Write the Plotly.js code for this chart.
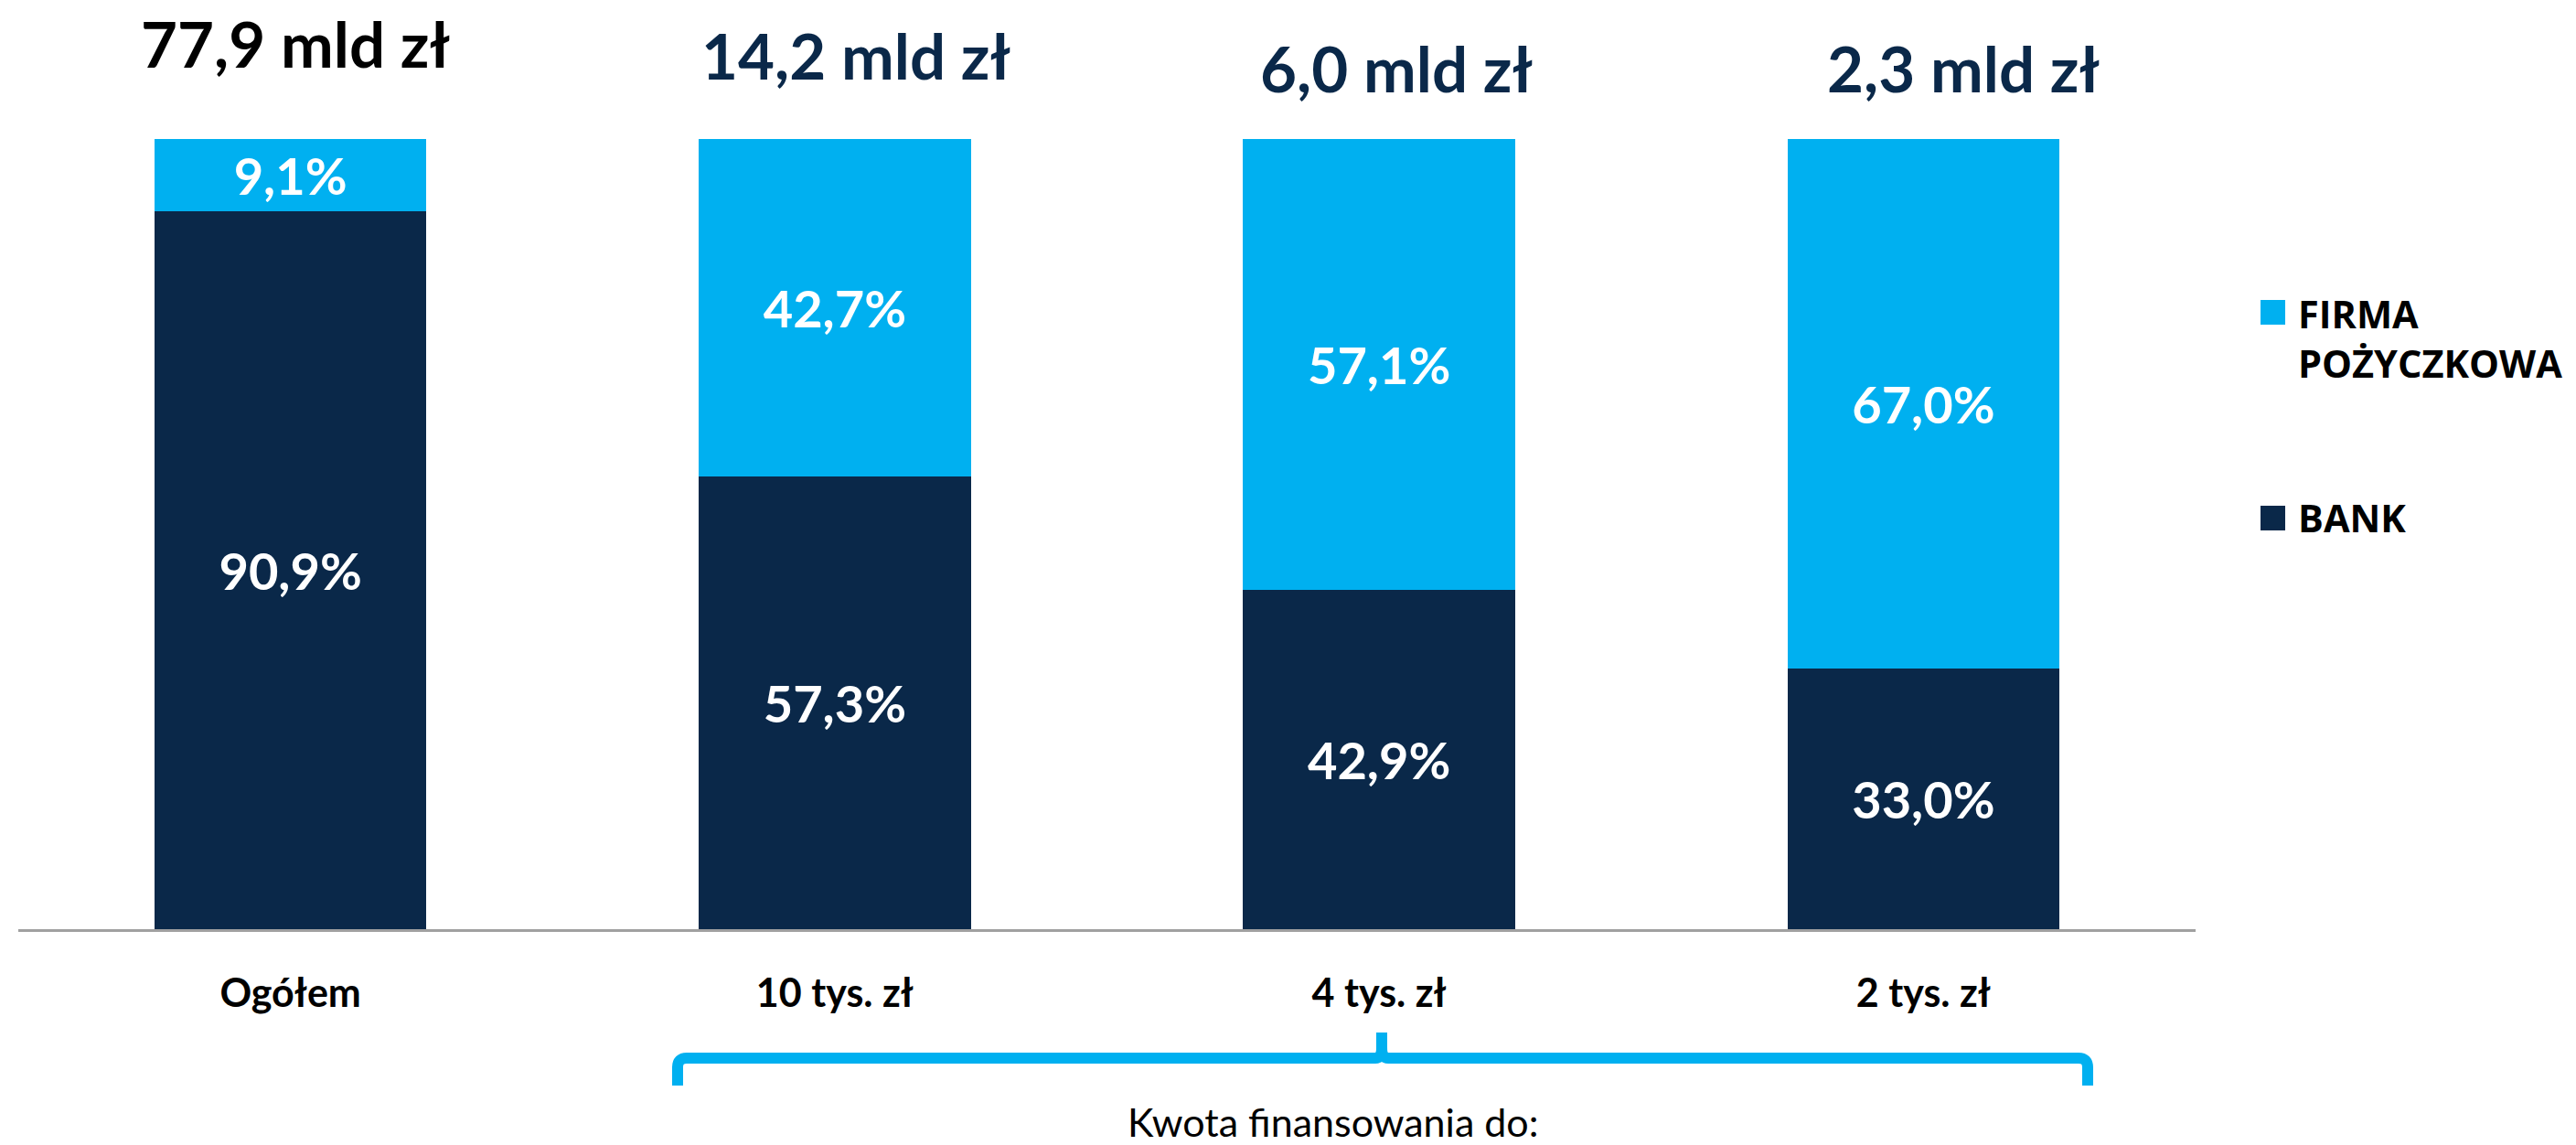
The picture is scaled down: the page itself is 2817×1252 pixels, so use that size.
<!DOCTYPE html>
<html>
<head>
<meta charset="utf-8">
<script src="https://cdn.plot.ly/plotly-3.0.1.min.js"></script>
<style>html,body{margin:0;padding:0;background:#fff;}#chart{width:2817px;height:1252px;}</style>
</head>
<body>
<div id="chart"></div>
<script>
// ---- data ----
const categories = ['Ogółem', '10 tys. zł', '4 tys. zł', '2 tys. zł'];
const seriesNames = ['BANK', 'FIRMA<br>POŻYCZKOWA'];
const bankShare = [90.9, 57.3, 42.9, 33.0];
const firmaShare = [9.1, 42.7, 57.1, 67.0];
const totals = [77.9, 14.2, 6.0, 2.3];
const totalsUnit = 'mld zł';
const bracketLabel = 'Kwota finansowania do:';

// ---- style ----
const NAVY = '#0A2849';
const BLUE = '#00B0F0';
const W = 2817, H = 1252;
const M = {l: 20, r: 416, t: 152, b: 236};
const PW = W - M.l - M.r, PH = H - M.t - M.b;
const px = x => (x - M.l) / PW;           // pixel -> paper x
const py = y => (H - M.b - y) / PH;       // pixel -> paper y

const fmt = v => v.toFixed(1).replace('.', ',');

const traces = [
  {type: 'bar', name: seriesNames[0], x: categories, y: bankShare,
   marker: {color: NAVY, line: {width: 0}}, showlegend: false,
   texttemplate: '%{y:.1f}%', textposition: 'inside', insidetextanchor: 'middle',
   textfont: {family: 'Lato', size: 56, color: '#ffffff', weight: 'bold'},
   constraintext: 'none', hoverinfo: 'skip'},
  {type: 'bar', name: seriesNames[1], x: categories, y: firmaShare,
   marker: {color: BLUE, line: {width: 0}}, showlegend: false,
   texttemplate: '%{y:.1f}%', textposition: 'inside', insidetextanchor: 'middle',
   textfont: {family: 'Lato', size: 56, color: '#ffffff', weight: 'bold'},
   constraintext: 'none', hoverinfo: 'skip'}
];

const titleY = [py(47), py(61), py(74), py(74)];
const titleShift = [5, 23, 19, 44];
const annotations = totals.map((t, i) => ({
  xref: 'x', yref: 'paper', x: categories[i], y: titleY[i], xshift: titleShift[i],
  text: '<b>' + fmt(t) + ' ' + totalsUnit + '</b>', showarrow: false,
  xanchor: 'center', yanchor: 'middle',
  font: {family: 'Lato', size: 69, color: i === 0 ? '#000000' : NAVY}
}));

annotations.push({
  xref: 'paper', yref: 'paper', x: px(1458), y: py(1226), text: bracketLabel,
  showarrow: false, xanchor: 'center', yanchor: 'middle',
  font: {family: 'Lato', size: 43, color: '#000000'}
});

// custom legend
annotations.push({
  xref: 'paper', yref: 'paper', x: px(2511), y: py(370), text: '<b>' + seriesNames[1] + '</b>',
  showarrow: false, xanchor: 'left', yanchor: 'middle', align: 'left',
  font: {family: 'Open Sans', size: 41.5, color: '#000000'}
});
annotations.push({
  xref: 'paper', yref: 'paper', x: px(2511), y: py(566), text: '<b>' + seriesNames[0] + '</b>',
  showarrow: false, xanchor: 'left', yanchor: 'middle', align: 'left',
  font: {family: 'Open Sans', size: 41.5, color: '#000000'}
});

// bracket path
const L = 741, R = 2283, C = 1511, Y0 = 1157, YB = 1187, YT = 1129;
const P = (x, y) => px(x).toFixed(5) + ',' + py(y).toFixed(5);
const bracketPath = 'M' + P(L, YB) + ' L' + P(L, Y0 + 10) + ' Q' + P(L, Y0) + ' ' + P(L + 10, Y0) +
  ' L' + P(C - 7, Y0) + ' Q' + P(C, Y0) + ' ' + P(C, Y0 - 12) + ' L' + P(C, YT) +
  ' L' + P(C, Y0 - 12) + ' Q' + P(C, Y0) + ' ' + P(C + 7, Y0) +
  ' L' + P(R - 10, Y0) + ' Q' + P(R, Y0) + ' ' + P(R, Y0 + 10) + ' L' + P(R, YB);

const shapes = [
  {type: 'rect', xref: 'paper', yref: 'paper', x0: px(2472), x1: px(2499), y0: py(355), y1: py(328),
   fillcolor: BLUE, line: {width: 0}},
  {type: 'rect', xref: 'paper', yref: 'paper', x0: px(2472), x1: px(2499), y0: py(580), y1: py(553),
   fillcolor: NAVY, line: {width: 0}},
  {type: 'path', xref: 'paper', yref: 'paper', path: bracketPath,
   line: {color: BLUE, width: 12}}
];

const layout = {
  width: W, height: H,
  margin: M,
  barmode: 'stack', bargap: 0.5,
  separators: ', ',
  paper_bgcolor: '#ffffff', plot_bgcolor: '#ffffff',
  showlegend: false,
  xaxis: {type: 'category', range: [-0.5, 3.5], showline: true, linecolor: '#A0A0A0', linewidth: 3,
    ticks: '', showgrid: false, zeroline: false, ticklabelstandoff: 30,
    tickfont: {family: 'Lato', size: 43, color: '#000000', weight: 'bold'}},
  yaxis: {range: [0, 100], visible: false, showgrid: false, zeroline: false},
  annotations: annotations,
  shapes: shapes,
  font: {family: 'Lato'}
};

Plotly.newPlot('chart', traces, layout, {displayModeBar: false, staticPlot: true});
</script>
</body>
</html>
